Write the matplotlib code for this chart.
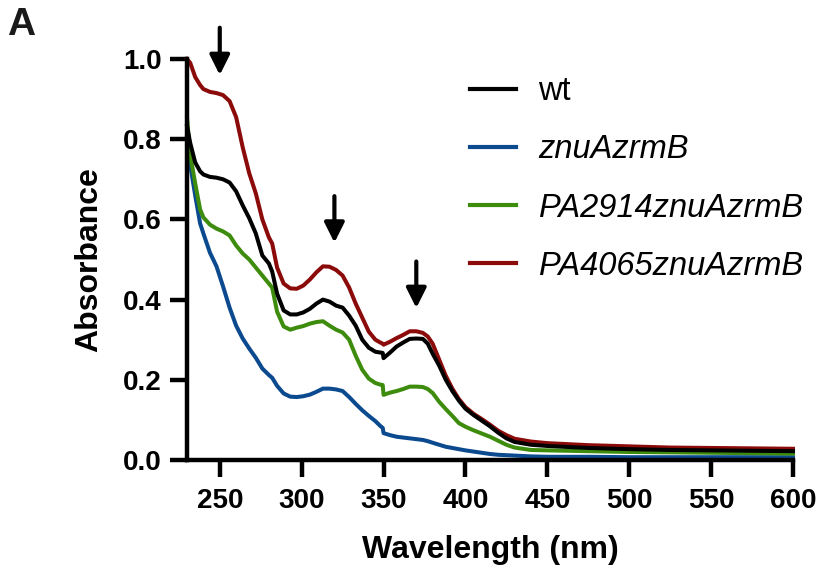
import matplotlib
matplotlib.use("Agg")
import matplotlib.pyplot as plt

# ---------------- data ----------------
wavelength = [230, 232, 235, 238, 240, 244, 248, 252, 256, 260, 264, 268, 272, 276, 280, 282,
              285, 289, 293, 297, 301, 305, 309, 313, 317, 321, 325, 329, 333, 337, 341, 345,
              348, 349.5, 350, 354, 358, 362, 366, 370, 374, 377, 380, 384, 388, 392, 396, 400,
              405, 410, 415, 420, 425, 430, 440, 450, 475, 500, 525, 550, 575, 600]

wt = [0.833, 0.79, 0.742, 0.72, 0.712, 0.706, 0.704, 0.70, 0.692, 0.67, 0.635, 0.603, 0.565, 0.51,
      0.49, 0.47, 0.415, 0.373, 0.363, 0.363, 0.368, 0.377, 0.39, 0.40, 0.395, 0.385, 0.38, 0.36,
      0.335, 0.30, 0.28, 0.27, 0.268, 0.267, 0.254, 0.268, 0.283, 0.293, 0.302, 0.303, 0.302,
      0.29, 0.265, 0.235, 0.20, 0.172, 0.148, 0.128, 0.112, 0.098, 0.084, 0.068, 0.054, 0.045,
      0.038, 0.035, 0.030, 0.027, 0.025, 0.024, 0.023, 0.022]

znuAzrmB = [0.804, 0.735, 0.66, 0.59, 0.565, 0.517, 0.483, 0.433, 0.38, 0.335, 0.303, 0.278, 0.255,
            0.228, 0.212, 0.205, 0.185, 0.166, 0.158, 0.157, 0.159, 0.163, 0.17, 0.178, 0.178,
            0.176, 0.172, 0.157, 0.14, 0.124, 0.11, 0.097, 0.085, 0.08, 0.067, 0.062, 0.058, 0.056,
            0.054, 0.052, 0.05, 0.047, 0.043, 0.038, 0.033, 0.03, 0.027, 0.024, 0.021, 0.018, 0.015,
            0.013, 0.012, 0.011, 0.009, 0.008, 0.008, 0.007, 0.007, 0.007, 0.007, 0.007]

PA2914 = [0.854, 0.76, 0.69, 0.625, 0.605, 0.587, 0.577, 0.57, 0.56, 0.535, 0.515, 0.50, 0.48, 0.46,
          0.44, 0.43, 0.37, 0.333, 0.325, 0.33, 0.334, 0.34, 0.344, 0.346, 0.335, 0.325, 0.318, 0.30,
          0.26, 0.225, 0.203, 0.192, 0.188, 0.187, 0.1625, 0.168, 0.172, 0.177, 0.183, 0.183, 0.182,
          0.177, 0.167, 0.145, 0.127, 0.11, 0.092, 0.083, 0.074, 0.066, 0.058, 0.048, 0.038, 0.031,
          0.025, 0.024, 0.022, 0.020, 0.019, 0.018, 0.017, 0.016]

PA4065 = [1.0, 0.99, 0.955, 0.935, 0.925, 0.918, 0.915, 0.91, 0.895, 0.855, 0.78, 0.715, 0.665, 0.60,
          0.555, 0.54, 0.48, 0.44, 0.428, 0.427, 0.435, 0.45, 0.468, 0.483, 0.482, 0.474, 0.46, 0.43,
          0.39, 0.355, 0.32, 0.30, 0.293, 0.29, 0.2875, 0.295, 0.304, 0.312, 0.321, 0.321, 0.317,
          0.308, 0.29, 0.25, 0.21, 0.178, 0.152, 0.132, 0.115, 0.102, 0.088, 0.073, 0.062, 0.053,
          0.046, 0.042, 0.037, 0.034, 0.031, 0.030, 0.029, 0.028]

series_labels = ["wt", "znuAzrmB", "PA2914znuAzrmB", "PA4065znuAzrmB"]
series_colors = ["#000000", "#0B4A8F", "#3E8C0E", "#8B0A0A"]

arrow_x = [250, 320, 370]
arrow_tip = [0.96, 0.542, 0.379]
arrow_tail = [1.078, 0.658, 0.495]

x_ticks = [250, 300, 350, 400, 450, 500, 550, 600]
y_ticks = [0.0, 0.2, 0.4, 0.6, 0.8, 1.0]

# ---------------- figure ----------------
plt.rcParams["font.family"] = ["Liberation Sans", "DejaVu Sans"]

fig = plt.figure(figsize=(8.17, 5.82), dpi=100)
ax = fig.add_axes([187 / 817, 1 - 460 / 582, (793 - 187) / 817, (460 - 59) / 582])

series = [wt, znuAzrmB, PA2914, PA4065]
order = [1, 2, 3, 0]
handles = {}
for i in order:
    ln, = ax.plot(wavelength, series[i], color=series_colors[i], lw=2.9,
                  label=series_labels[i], clip_on=False, solid_joinstyle="round")
    handles[i] = ln

ax.set_xlim(230, 600)
ax.set_ylim(0, 1.0)
ax.set_xticks(x_ticks)
ax.set_yticks(y_ticks)
ax.set_xticklabels([str(t) for t in x_ticks])
ax.set_yticklabels([f"{t:.1f}" for t in y_ticks])

for s in ["top", "right"]:
    ax.spines[s].set_visible(False)
for s in ["left", "bottom"]:
    ax.spines[s].set_linewidth(3.2)

ax.tick_params(axis="both", width=3.2, length=12.5, direction="out")
ax.tick_params(axis="x", pad=8)
ax.tick_params(axis="y", pad=5.5)
for lab in ax.get_xticklabels() + ax.get_yticklabels():
    lab.set_fontweight("bold")
    lab.set_fontsize(20)

ax.set_xlabel("Wavelength (nm)", fontsize=23, fontweight="bold", labelpad=15)
ax.set_ylabel("Absorbance", fontsize=23, fontweight="bold", labelpad=14)

for xv, yt, yb in zip(arrow_x, arrow_tip, arrow_tail):
    ax.annotate("", xy=(xv, yt), xytext=(xv, yb),
                arrowprops=dict(arrowstyle="-|>,head_length=0.6,head_width=0.3",
                                lw=3, color="black", shrinkA=0, shrinkB=0,
                                mutation_scale=20),
                annotation_clip=False)

leg = ax.legend([handles[i] for i in range(4)], series_labels,
                loc="upper left", bbox_to_anchor=(0.467, 0.9575), frameon=False,
                borderpad=0, borderaxespad=0, handlelength=1.4, handletextpad=0.7,
                labelspacing=0.836, fontsize=23.5)
for i, t in enumerate(leg.get_texts()):
    if i > 0:
        t.set_fontstyle("italic")
for l in leg.get_lines():
    l.set_linewidth(3)

fig.text(7 / 817, 1 - 35 / 582, "A", fontsize=28, fontweight="bold", color="#1a1a1a",
         ha="left", va="baseline")

fig.savefig("out.png", dpi=100)
